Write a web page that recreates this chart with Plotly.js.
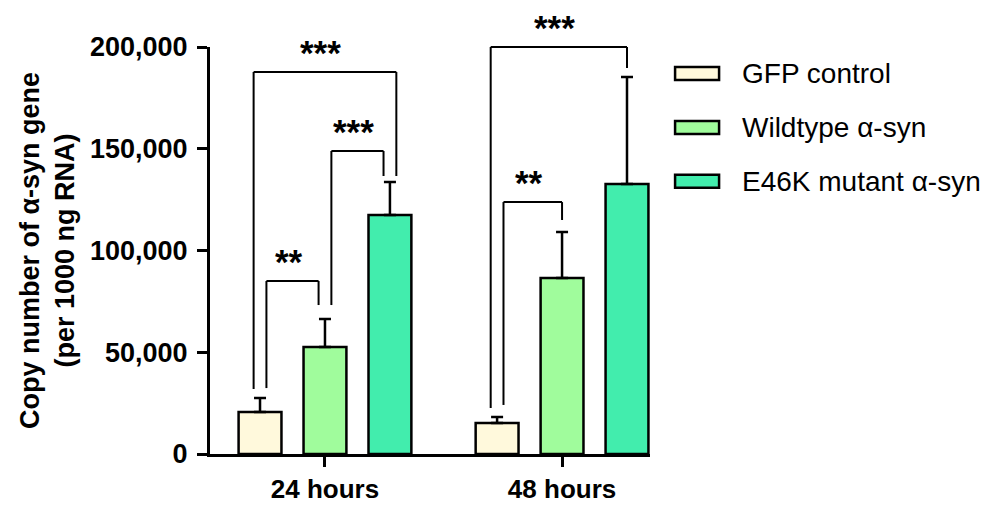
<!DOCTYPE html>
<html>
<head>
<meta charset="utf-8">
<script src="https://cdn.plot.ly/plotly-3.0.1.min.js"></script>
<style>html,body{margin:0;padding:0;background:#fff;}#chart{width:992px;height:505px;}</style>
</head>
<body>
<div id="chart"></div>
<script>
// ---- data ----
const categories = ['24 hours', '48 hours'];
const seriesNames = ['GFP control', 'Wildtype α-syn', 'E46K mutant α-syn'];
const gfpMean = [20600, 15200];
const gfpSD = [6900, 3000];
const wtMean = [52600, 86500];
const wtSD = [13700, 22600];
const e46kMean = [117400, 132700];
const e46kSD = [16300, 52500];
const yTicks = [0, 50000, 100000, 150000, 200000];
// significance comparisons: category index, bar a, bar b, label, bracket top, leg ends
const sigCat = [0, 0, 0, 1, 1];
const sigA = [0, 1, 0, 0, 0];
const sigB = [2, 2, 1, 2, 1];
const sigLabel = ['***', '***', '**', '***', '**'];
const sigTop = [187700, 148900, 85000, 200000, 123800];
const sigAEnd = [31900, 73200, 32400, 22600, 24100];
const sigBEnd = [136600, 136600, 73200, 189700, 115000];
const sigASide = [-1, 1, 1, -1, 1];
const sigBSide = [1, -1, -1, 0, 0];

// ---- styles ----
const colors = ['#FFF9DC', '#A0FC9C', '#42EDAD'];
const means = [gfpMean, wtMean, e46kMean];
const sds = [gfpSD, wtSD, e46kSD];
const YMAX = 200000;
const FONT = 'Arial, "Liberation Sans", Helvetica, sans-serif';

const traces = seriesNames.map((name, i) => ({
  type: 'bar',
  name: name,
  x: categories,
  y: means[i],
  marker: {color: colors[i], line: {color: '#000', width: 2.5}},
  error_y: {type: 'data', symmetric: false, array: sds[i], arrayminus: sds[i].map(() => 0),
            color: '#000', thickness: 2.5, width: 6},
  showlegend: false,
  hoverinfo: 'y'
}));

const bargap = 0.178, bargroupgap = 0.34;
const slot = (1 - bargap) / 3;
const barCenter = (cat, k) => cat + (k - 1) * slot;
const legNudge = 0.027;

const shapes = [];
const annotations = [];
const lineStyle = {color: '#000', width: 2};
for (let i = 0; i < sigCat.length; i++) {
  const xa = barCenter(sigCat[i], sigA[i]) + sigASide[i] * legNudge;
  const xb = barCenter(sigCat[i], sigB[i]) + sigBSide[i] * legNudge;
  const yt = sigTop[i] / YMAX;
  shapes.push({type: 'line', xref: 'x', yref: 'paper', x0: xa, x1: xa, y0: sigAEnd[i] / YMAX, y1: yt, line: lineStyle});
  shapes.push({type: 'line', xref: 'x', yref: 'paper', x0: xa, x1: xb, y0: yt, y1: yt, line: lineStyle});
  shapes.push({type: 'line', xref: 'x', yref: 'paper', x0: xb, x1: xb, y0: yt, y1: sigBEnd[i] / YMAX, line: lineStyle});
  annotations.push({xref: 'x', yref: 'paper', x: (xa + xb) / 2, y: yt, xshift: -4, yshift: -2,
    xanchor: 'center', yanchor: 'bottom', showarrow: false, text: sigLabel[i],
    font: {family: FONT, size: 35, color: '#000', weight: 700}});
}

// custom legend (wide rectangles like the reference)
const legY = [0.935, 0.802, 0.670];
seriesNames.forEach((name, i) => {
  shapes.push({type: 'rect', xref: 'paper', yref: 'paper', x0: 1.057, x1: 1.157,
    y0: legY[i] - 0.016, y1: legY[i] + 0.016, fillcolor: colors[i], line: {color: '#000', width: 2.5}});
  annotations.push({xref: 'paper', yref: 'paper', x: 1.205, y: legY[i], xanchor: 'left', yanchor: 'middle',
    showarrow: false, text: name, font: {family: FONT, size: 28, color: '#000'}});
});

const layout = {
  width: 992, height: 505,
  margin: {l: 210, r: 342, t: 47, b: 51},
  paper_bgcolor: '#fff', plot_bgcolor: '#fff',
  barmode: 'group', bargap: bargap, bargroupgap: bargroupgap,
  font: {family: FONT, color: '#000'},
  xaxis: {
    type: 'category', range: [-0.485, 1.371],
    showline: true, linecolor: '#000', linewidth: 3,
    ticks: 'outside', ticklen: 10, tickwidth: 3, tickcolor: '#000',
    tickfont: {family: FONT, size: 26, color: '#000', weight: 700},
    ticklabelstandoff: 0,
    showgrid: false, zeroline: false, fixedrange: true
  },
  yaxis: {
    range: [0, YMAX], tickvals: yTicks, tickformat: ',d',
    showline: true, linecolor: '#000', linewidth: 3,
    ticks: 'outside', ticklen: 10, tickwidth: 3, tickcolor: '#000',
    tickfont: {family: FONT, size: 27, color: '#000', weight: 700},
    ticklabelstandoff: 4,
    showgrid: false, zeroline: false, fixedrange: true,
    title: {text: 'Copy number of α-syn gene<br>(per 1000 ng RNA)', standoff: 8,
            font: {family: FONT, size: 27, color: '#000', weight: 700}}
  },
  shapes: shapes,
  annotations: annotations,
  showlegend: false
};

Plotly.newPlot('chart', traces, layout, {displayModeBar: false, staticPlot: true});
</script>
</body>
</html>
